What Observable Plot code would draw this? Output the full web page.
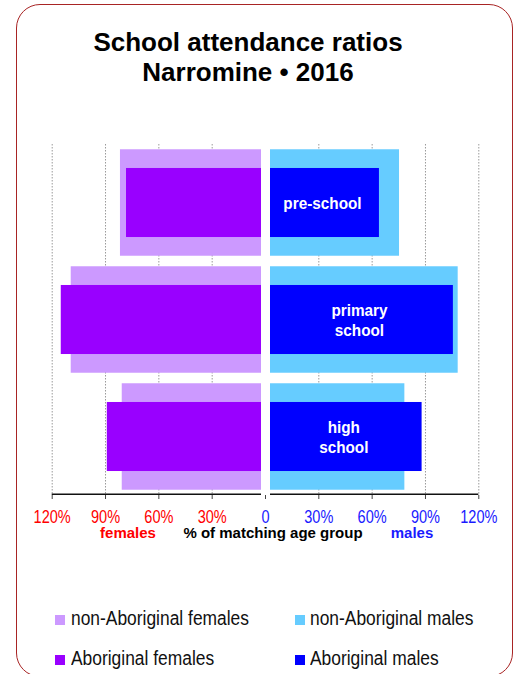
<!DOCTYPE html>
<html><head><meta charset="utf-8">
<script src="https://cdn.jsdelivr.net/npm/d3@7"></script>
<script src="https://cdn.jsdelivr.net/npm/@observablehq/plot@0.6"></script>
<style>
body{margin:0;background:#fff;}
#wrap{position:relative;width:519px;height:674px;overflow:hidden;font-family:"Liberation Sans",Arial,sans-serif;}
#border{position:absolute;left:16px;top:4px;width:497px;height:673px;border:1px solid #a82424;border-radius:24px;box-sizing:border-box;}
.title{position:absolute;left:0;width:496px;text-align:center;font-weight:bold;font-size:26px;line-height:29px;color:#000;}
#chart{position:absolute;left:0;top:0;}
.cap{position:absolute;top:525px;font-weight:bold;font-size:15px;line-height:15px;white-space:nowrap;transform:translateX(-50%);}
.leg{position:absolute;font-size:20px;line-height:20px;white-space:nowrap;color:#111;transform:scaleX(0.87);transform-origin:left center;}
.sw{position:absolute;width:10px;height:10px;}
</style></head><body>
<div id="wrap">
  <div id="border"></div>
  <div class="title" style="top:28px">School attendance ratios</div>
  <div class="title" style="top:57.5px">Narromine • 2016</div>
  <div id="chart"></div>
  <div class="cap" style="left:128px;color:#ff0000">females</div>
  <div class="cap" style="left:273px;color:#000">% of matching age group</div>
  <div class="cap" style="left:412px;color:#1a1aff">males</div>
  <div id="legend"></div>
</div>
<script>
const categories = ["pre-school", "primary school", "high school"];
const nonAboriginalFemales = [81.6, 109.3, 80.6];
const aboriginalFemales = [78.2, 114.9, 89.0];
const nonAboriginalMales = [75.4, 108.4, 78.4];
const aboriginalMales = [64.1, 105.7, 88.1];
const femaleTicks = [-120, -90, -60, -30];
const maleTicks = [0, 30, 60, 90, 120];
const seriesNames = ["non-Aboriginal females", "non-Aboriginal males", "Aboriginal females", "Aboriginal males"];
const seriesColors = ["#cc99ff", "#66ccff", "#9900ff", "#0000ff"];

const rows = categories.map((c, i) => ({
  cat: c,
  nf: nonAboriginalFemales[i], af: aboriginalFemales[i],
  nm: nonAboriginalMales[i], am: aboriginalMales[i]
}));

const H = 540, MT = 144, MB = 45;
const bw = (H - MT - MB) / categories.length;
const outerInset = bw * 0.045;
const innerInset = bw * 0.205;
const axisSegs = [
  {x1: femaleTicks[0], x2: 0, side: "f"},
  {x1: 0, x2: maleTicks[maleTicks.length - 1], side: "m"}
];
const fmt = d => d === 0 ? "0" : Math.abs(d) + "%";

const chart = Plot.plot({
  width: 519, height: H,
  marginTop: MT, marginBottom: MB, marginLeft: 51.7, marginRight: 40.7,
  style: {fontFamily: "'Liberation Sans',Arial,sans-serif", fontSize: "17.5px", background: "transparent"},
  x: {domain: [femaleTicks[0], maleTicks[maleTicks.length - 1]]},
  y: {domain: categories, padding: 0, axis: null},
  marks: [
    Plot.ruleX([...femaleTicks, ...maleTicks].filter(d => d !== 0), {stroke: "#9a9a9a", strokeDasharray: "1.5,1.5", strokeWidth: 1}),
    Plot.barX(rows, {y: "cat", x1: d => -d.nf, x2: 0, fill: seriesColors[0], insetTop: outerInset, insetBottom: outerInset, insetRight: 4}),
    Plot.barX(rows, {y: "cat", x1: d => -d.af, x2: 0, fill: seriesColors[2], insetTop: innerInset, insetBottom: innerInset, insetRight: 4}),
    Plot.barX(rows, {y: "cat", x1: 0, x2: "nm", fill: seriesColors[1], insetTop: outerInset, insetBottom: outerInset, insetLeft: 5}),
    Plot.barX(rows, {y: "cat", x1: 0, x2: "am", fill: seriesColors[3], insetTop: innerInset, insetBottom: innerInset, insetLeft: 5}),
    Plot.text(rows, {y: "cat", x: d => d.am / 2, text: d => d.cat.replace(" ", "\n"), fill: "white", fontWeight: "bold", fontSize: 17, lineHeight: 1.18, className: "barlab"}),
    Plot.barX(axisSegs.filter(d => d.side === "f"), {y: () => categories[categories.length - 1], x1: "x1", x2: "x2", fill: "#111", insetTop: bw - 1.5, insetRight: 4}),
    Plot.barX(axisSegs.filter(d => d.side === "m"), {y: () => categories[categories.length - 1], x1: "x1", x2: "x2", fill: "#111", insetTop: bw - 1.5, insetLeft: 5}),
    Plot.axisX(femaleTicks, {anchor: "bottom", tickSize: 4, tickPadding: 11, tickFormat: fmt, stroke: "#444", fill: "#ff0000"}),
    Plot.axisX(maleTicks, {anchor: "bottom", tickSize: 4, tickPadding: 11, tickFormat: fmt, stroke: "#444", fill: "#1a1aff"})
  ]
});
document.getElementById("chart").appendChild(chart);

// horizontally condense text (the reference uses a narrow face)
function condense(el, k) {
  const w = el.getComputedTextLength();
  if (w > 0) {
    el.setAttribute("textLength", (w * k).toFixed(2));
    el.setAttribute("lengthAdjust", "spacingAndGlyphs");
  }
}
chart.querySelectorAll('g[aria-label="x-axis tick label"] text').forEach(t => condense(t, 0.83));
chart.querySelectorAll('g.barlab text').forEach(t => {
  const spans = t.querySelectorAll("tspan");
  if (spans.length) spans.forEach(s => condense(s, 0.9)); else condense(t, 0.9);
});

// legend
const legPos = [
  {sx: 55, tx: 70.7, top: 608},
  {sx: 295, tx: 310, top: 608},
  {sx: 55, tx: 70.7, top: 648},
  {sx: 295, tx: 310, top: 648}
];
const leg = document.getElementById("legend");
seriesNames.forEach((name, i) => {
  const p = legPos[i];
  const sw = document.createElement("div");
  sw.className = "sw";
  sw.style.left = p.sx + "px";
  sw.style.top = (p.top + 7) + "px";
  sw.style.background = seriesColors[i];
  leg.appendChild(sw);
  const t = document.createElement("div");
  t.className = "leg";
  t.style.left = p.tx + "px";
  t.style.top = p.top + "px";
  t.textContent = name;
  leg.appendChild(t);
});
</script>
</body></html>
